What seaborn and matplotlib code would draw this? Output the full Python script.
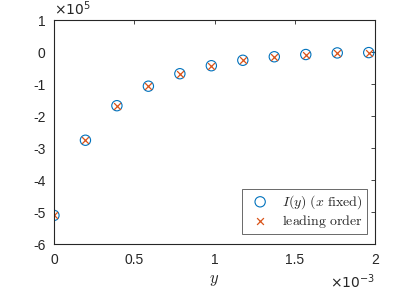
"""
Recreate the I(y) vs leading-order comparison plot (MATLAB look)
"""

import numpy as np
import pandas as pd
import matplotlib
matplotlib.use('Agg')
import matplotlib.pyplot as plt
import seaborn as sns

# Data (x in units of 1e-3, values in units of 1e5)
y_pos = [0.0, 0.196, 0.392, 0.588, 0.784, 0.980, 1.176, 1.372, 1.568, 1.764, 1.960]
I_vals = [-5.10, -2.75, -1.67, -1.06, -0.67, -0.42, -0.25, -0.14, -0.07, -0.02, -0.01]
lead_vals = [-5.10, -2.75, -1.67, -1.06, -0.67, -0.42, -0.25, -0.14, -0.07, -0.02, -0.01]

x_ticks = [0, 0.5, 1, 1.5, 2]
x_ticklabels = ['0', '0.5', '1', '1.5', '2']
y_ticks = [-6, -5, -4, -3, -2, -1, 0, 1]
y_ticklabels = ['-6', '-5', '-4', '-3', '-2', '-1', '0', '1']

blue = '#0072BD'
orange = '#D95319'
axcol = '#262626'

sns.set_style('white')
plt.rcParams['font.family'] = ['Liberation Sans', 'DejaVu Sans']
plt.rcParams['mathtext.fontset'] = 'cm'

df = pd.DataFrame({'y': y_pos, 'I': I_vals, 'lead': lead_vals})

fig = plt.figure(figsize=(4.15, 2.9), dpi=100)
ax = fig.add_axes([0.130, 0.158, 0.774, 0.772])

sns.scatterplot(data=df, x='y', y='I', ax=ax, marker='o', s=55,
                facecolor='none', edgecolor=blue, linewidth=0.8,
                label=r'$I(y)\ (x\ \mathrm{fixed})$')
sns.scatterplot(data=df, x='y', y='lead', ax=ax, marker='x', s=24,
                color=orange, linewidth=0.9,
                label=r'$\mathrm{leading\ order}$')

ax.set_xlim(0, 2)
ax.set_ylim(-6, 1)
ax.set_xticks(x_ticks)
ax.set_xticklabels(x_ticklabels)
ax.set_yticks(y_ticks)
ax.set_yticklabels(y_ticklabels)
ax.set_xlabel(r'$y$', fontsize=12, color=axcol, labelpad=5)
ax.set_ylabel('')

for sp in ax.spines.values():
    sp.set_color(axcol)
    sp.set_linewidth(0.8)
ax.tick_params(direction='in', length=3, width=0.6, colors=axcol,
               top=True, right=True, labelsize=10, pad=6)

# exponent labels
ax.text(0.0, 1.01, r'$\times10^{5}$', transform=ax.transAxes, fontsize=10,
        color=axcol, ha='left', va='bottom', math_fontfamily='dejavusans')
ax.text(1.0, -0.125, r'$\times10^{-3}$', transform=ax.transAxes, fontsize=10,
        color=axcol, ha='right', va='top', math_fontfamily='dejavusans')

leg = ax.legend(loc='lower right', fontsize=10, frameon=True, fancybox=False,
                borderpad=0.3, handletextpad=0.6, labelspacing=0.15,
                bbox_to_anchor=(0.975, 0.045), borderaxespad=0.0)
leg.get_frame().set_edgecolor(axcol)
leg.get_frame().set_linewidth(0.6)

fig.savefig('out.png', dpi=100)
